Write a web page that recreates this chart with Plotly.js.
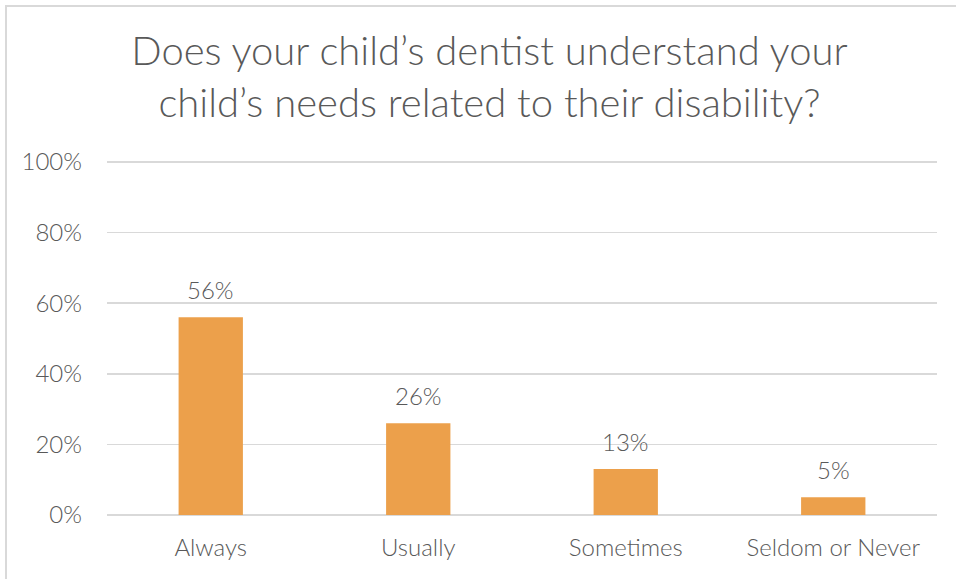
<!DOCTYPE html>
<html><head><meta charset="utf-8">
<script src="https://cdn.plot.ly/plotly-3.0.1.min.js"></script>
<style>
html,body{margin:0;padding:0;background:#fff;overflow:hidden}
#chart{width:956px;height:579px;position:relative}
#frame{position:absolute;left:5px;top:5px;width:1000px;height:700px;border:2px solid #d9d9d9;pointer-events:none;z-index:10}
</style></head>
<body>
<div id="frame"></div>
<div id="chart"></div>
<script>
const categories = ["Always", "Usually", "Sometimes", "Seldom or Never"];
const values = [0.56, 0.26, 0.13, 0.05];
const labels = ["56%", "26%", "13%", "5%"];
const yTicks = [0, 0.2, 0.4, 0.6, 0.8, 1.0];
const yTickText = ["0%", "20%", "40%", "60%", "80%", "100%"];

const gray = "#595959";
const fontFam = "Lato, Inter, sans-serif";

const trace = {
  type: "bar",
  x: categories,
  y: values,
  marker: {color: "#ECA04B"},
  hoverinfo: "skip"
};

const annotations = categories.map((c, i) => ({
  x: c, y: values[i], text: labels[i], showarrow: false,
  xref: "x", yref: "y", yanchor: "bottom", yshift: 11,
  font: {family: fontFam, size: 24, color: gray, weight: 300}
}));

const layout = {
  width: 956, height: 579,
  margin: {l: 107, r: 19, t: 161, b: 64},
  paper_bgcolor: "#fff", plot_bgcolor: "#fff",
  title: {
    text: "Does your child’s dentist understand your<br>child’s needs related to their disability?",
    font: {family: fontFam, size: 40, color: gray, weight: 300},
    x: 0.512, xanchor: "center", y: 0.888, yanchor: "middle", yref: "container"
  },
  showlegend: false,
  bargap: 0.69,
  xaxis: {
    showgrid: false, zeroline: false, showline: false, ticks: "",
    tickfont: {family: fontFam, size: 24, color: gray, weight: 300},
    ticklabelstandoff: 16
  },
  yaxis: {
    range: [0, 1.003], tickvals: yTicks, ticktext: yTickText,
    showgrid: true, gridcolor: "#d9d9d9", gridwidth: 1.5,
    zeroline: true, zerolinecolor: "#d9d9d9", zerolinewidth: 1.5,
    showline: false, ticks: "",
    tickfont: {family: fontFam, size: 24, color: gray, weight: 300},
    ticklabelstandoff: 24
  },
  annotations: annotations
};

Plotly.newPlot("chart", [trace], layout, {displayModeBar: false, staticPlot: true});
</script>
</body></html>
